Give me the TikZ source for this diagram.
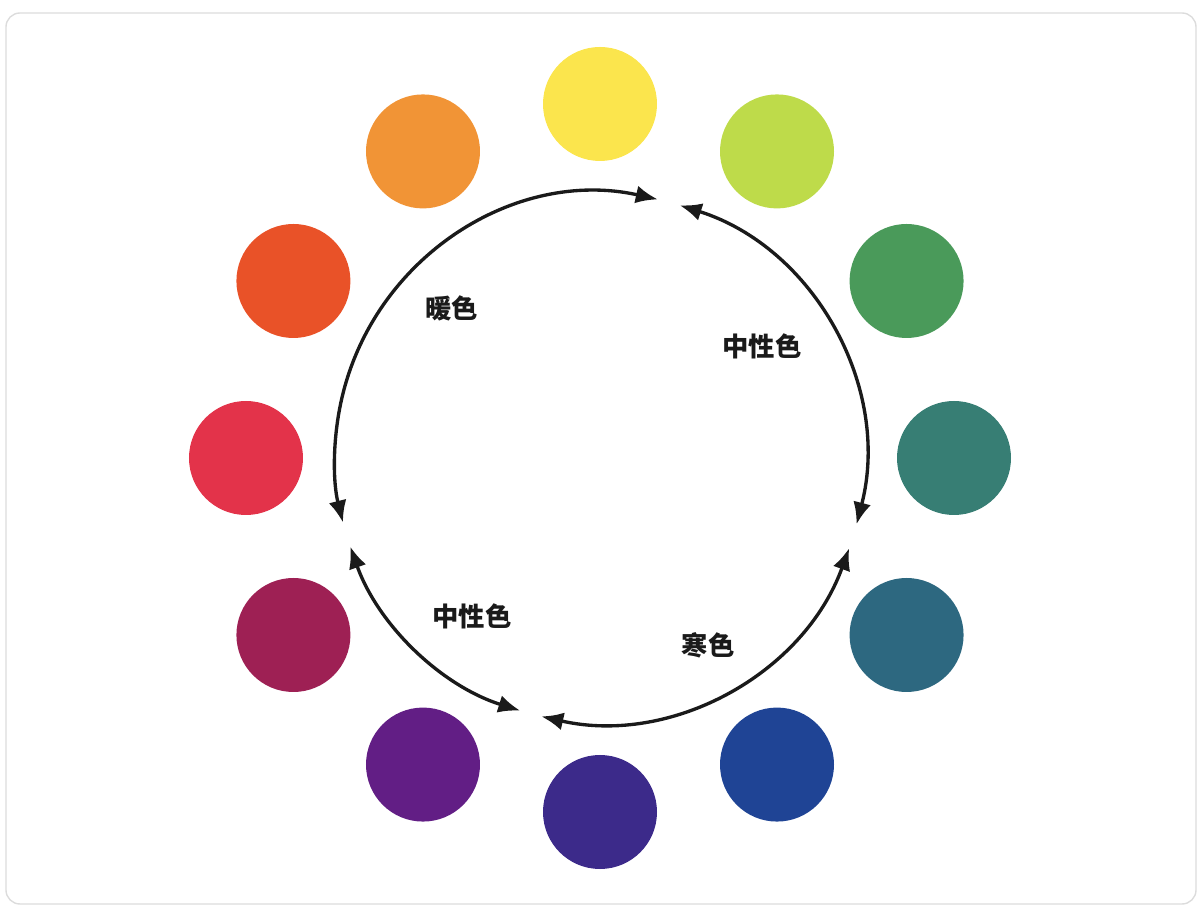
\documentclass[tikz,border=0pt]{standalone}
\usepackage{fontspec}
\newfontfamily\cjk{Noto Sans CJK SC}
\usepackage{tikz}
\usetikzlibrary{arrows.meta, positioning, calc}
\usepackage{xcolor}

\definecolor{cYellow}{HTML}{FBE54D}
\definecolor{cLime}{HTML}{BEDB4A}
\definecolor{cGreen}{HTML}{4A9A5A}
\definecolor{cTeal}{HTML}{377E74}
\definecolor{cPetrol}{HTML}{2D6880}
\definecolor{cBlue}{HTML}{1F4495}
\definecolor{cIndigo}{HTML}{3C2A8A}
\definecolor{cPurple}{HTML}{621E85}
\definecolor{cMagenta}{HTML}{9E2054}
\definecolor{cRed}{HTML}{E3334A}
\definecolor{cVermilion}{HTML}{E95228}
\definecolor{cOrange}{HTML}{F19436}
\definecolor{frameGray}{HTML}{DCDCDC}
\definecolor{inkBlack}{HTML}{1A1A1A}

\tikzset{
  swatch/.style={circle, minimum size=2.28cm, inner sep=0pt},
  ring/.style={line width=1.9pt, inkBlack, {Latex[length=0.44cm,width=0.36cm]}-{Latex[length=0.44cm,width=0.36cm]}},
  tag/.style={font=\cjk\bfseries\fontsize{15}{17}\selectfont, text=inkBlack}
}

\begin{document}
\begin{tikzpicture}
    \useasboundingbox (-12,-9.24) rectangle (12.08,9.16);
    % Frame
    \draw[frameGray, line width=0.8pt, rounded corners=0.28cm] (-11.88,-8.92) rectangle (11.92,8.9);

    % Colour swatches, clockwise from the top
    \node[swatch, fill=cYellow]    (yellow)    at (90:7.08) {};
    \node[swatch, fill=cLime]      (lime)      at (60:7.08) {};
    \node[swatch, fill=cGreen]     (green)     at (30:7.08) {};
    \node[swatch, fill=cTeal]      (teal)      at (0:7.08) {};
    \node[swatch, fill=cPetrol]    (petrol)    at (-30:7.08) {};
    \node[swatch, fill=cBlue]      (blue)      at (-60:7.08) {};
    \node[swatch, fill=cIndigo]    (indigo)    at (-90:7.08) {};
    \node[swatch, fill=cPurple]    (purple)    at (-120:7.08) {};
    \node[swatch, fill=cMagenta]   (magenta)   at (-150:7.08) {};
    \node[swatch, fill=cRed]       (red)       at (180:7.08) {};
    \node[swatch, fill=cVermilion] (vermilion) at (150:7.08) {};
    \node[swatch, fill=cOrange]    (orange)    at (120:7.08) {};

    % Arc end points
    \coordinate (warmA) at (77.4:5.3);
    \coordinate (neutA) at (72.5:5.3);
    \coordinate (coolA) at (-19.9:5.3);
    \coordinate (neutB) at (199.5:5.3);

    % Warm arc
    \draw[ring] (warmA) arc[start angle=77.4, end angle=194.1, radius=5.3];
    % Neutral arc, right
    \draw[ring] (neutA) arc[start angle=72.5, end angle=-14.5, radius=5.3];
    % Cool arc
    \draw[ring] (coolA) arc[start angle=-19.9, end angle=-102.8, radius=5.3];
    % Neutral arc, lower left
    \draw[ring] (neutB) arc[start angle=199.5, end angle=252.5, radius=5.3];

    % Labels
    \node[tag] (warm)     at (-2.96,3.0)   {暖色};
    \node[tag] (neutral1) at (3.24,2.24)   {中性色};
    \node[tag] (cool)     at (2.16,-3.74)  {寒色};
    \node[tag] (neutral2) at (-2.56,-3.16) {中性色};
\end{tikzpicture}
\end{document}
